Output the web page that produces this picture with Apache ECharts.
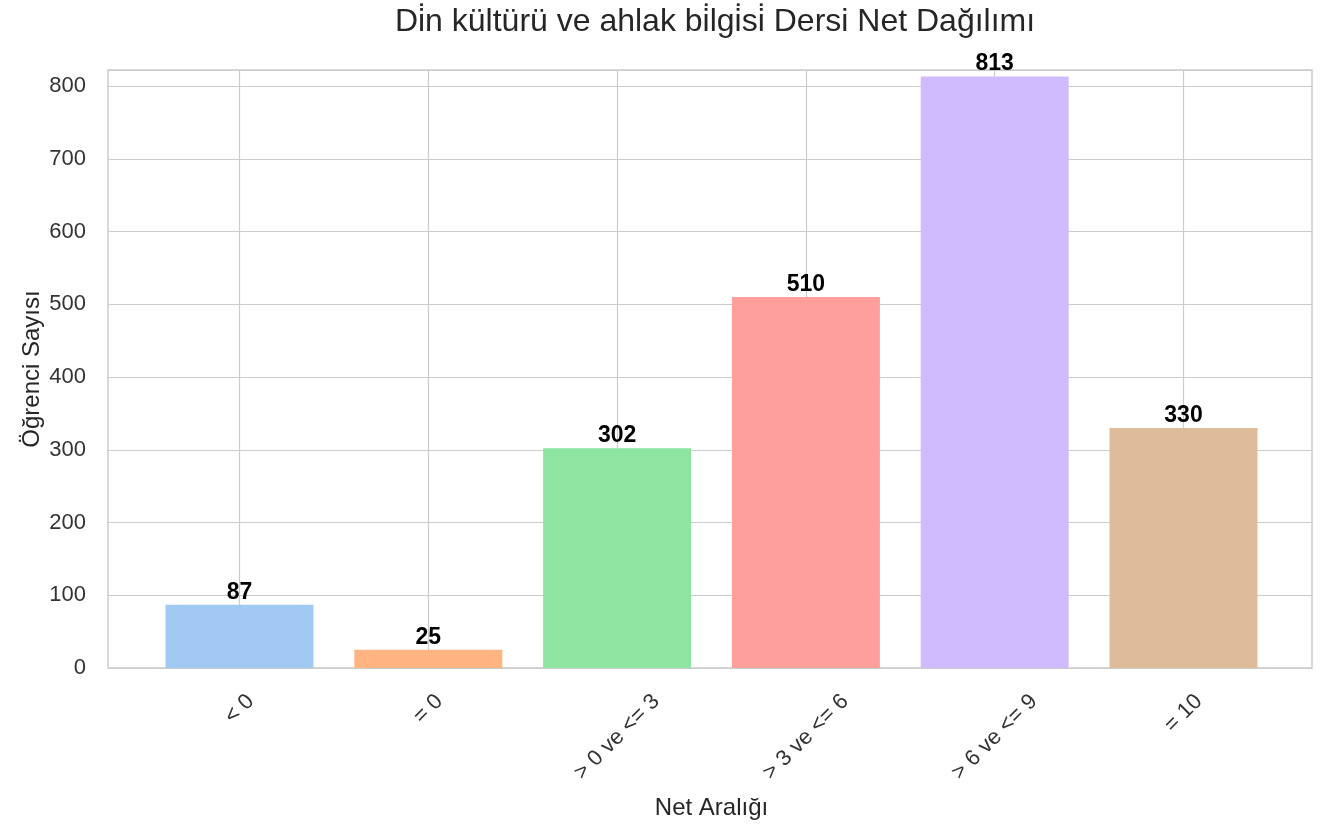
<!DOCTYPE html>
<html><head><meta charset="utf-8">
<script src="https://cdn.jsdelivr.net/npm/echarts@6/dist/echarts.min.js"></script>
<style>html,body{margin:0;padding:0;background:#fff}#c{width:1331px;height:829px}</style>
</head><body><div id="c"></div>
<script>
const titleText = 'Di\u0307n kültürü ve ahlak bi\u0307lgi\u0307si\u0307 Dersi Net Dağılımı';
const categories = ['< 0', '= 0', '> 0 ve <= 3', '> 3 ve <= 6', '> 6 ve <= 9', '= 10'];
const counts = [87, 25, 302, 510, 813, 330];
const barColors = ['#a1c9f4', '#ffb482', '#8de5a1', '#ff9f9b', '#d0bbff', '#debb9b'];
const yMax = 822;

const FONT = "'Liberation Sans', Arial, sans-serif";
const tickSize = 22;
const ctx = document.createElement('canvas').getContext('2d');
ctx.font = tickSize + 'px ' + FONT;
// rotated labels centred under their tick (like matplotlib ha='center')
const catData = categories.map(c => {
  const L = ctx.measureText(c).width;
  return {
    value: c,
    textStyle: {
      align: 'center', verticalAlign: 'top',
      lineHeight: L * 0.5,
      padding: [0, L * 0.5, 0, 0],
      fontFamily: FONT, fontSize: tickSize, color: '#333333'
    }
  };
});

const chart = echarts.init(document.getElementById('c'));
const gridPos = { top: 70, bottom: 161 };
chart.setOption({
  backgroundColor: '#ffffff',
  animation: false,
  title: {
    text: titleText, left: 710, top: 1, textAlign: 'center',
    textStyle: { fontFamily: FONT, fontSize: 32, fontWeight: 'normal', color: '#262626' }
  },
  grid: [
    { left: 108, right: 19, top: gridPos.top, bottom: gridPos.bottom, outerBoundsMode: 'none', containLabel: false, show: true, borderColor: '#cccccc', borderWidth: 1.5, backgroundColor: 'transparent' },
    { left: 239.5, right: 147.5, top: gridPos.top, bottom: gridPos.bottom, outerBoundsMode: 'none', containLabel: false }
  ],
  xAxis: [
    { gridIndex: 0, type: 'value', show: false, min: 0, max: 1 },
    {
      gridIndex: 1, type: 'category', data: catData, boundaryGap: false,
      axisLine: { show: false }, axisTick: { show: false },
      splitLine: { show: true, interval: 0, lineStyle: { color: '#cccccc', width: 1.2 } },
      axisLabel: {
        interval: 0, rotate: 45, margin: 30,
        fontFamily: FONT, fontSize: tickSize, color: '#333333'
      },
      name: 'Net Aralığı', nameLocation: 'middle', nameGap: 128, nameMoveOverlap: false,
      nameTextStyle: { fontFamily: FONT, fontSize: 24, color: '#262626' }
    }
  ],
  yAxis: [
    {
      gridIndex: 0, type: 'value', min: 0, max: yMax, interval: 100,
      axisLine: { show: false }, axisTick: { show: false },
      splitLine: { show: true, lineStyle: { color: '#cccccc', width: 1.2 } },
      axisLabel: { showMaxLabel: false, margin: 22, fontFamily: FONT, fontSize: tickSize, color: '#333333' },
      name: 'Öğrenci Sayısı', nameLocation: 'middle', nameGap: 64, nameMoveOverlap: false,
      nameTextStyle: { fontFamily: FONT, fontSize: 24, color: '#262626' }
    },
    { gridIndex: 1, type: 'value', min: 0, max: yMax, show: false }
  ],
  series: [{
    type: 'bar', xAxisIndex: 1, yAxisIndex: 1, data: counts, barWidth: 148, clip: false,
    itemStyle: { color: p => barColors[p.dataIndex] },
    label: {
      show: true, position: 'top', distance: 1,
      fontFamily: FONT, fontSize: 23, fontWeight: 'bold', color: '#000000'
    }
  }]
});
</script></body></html>
